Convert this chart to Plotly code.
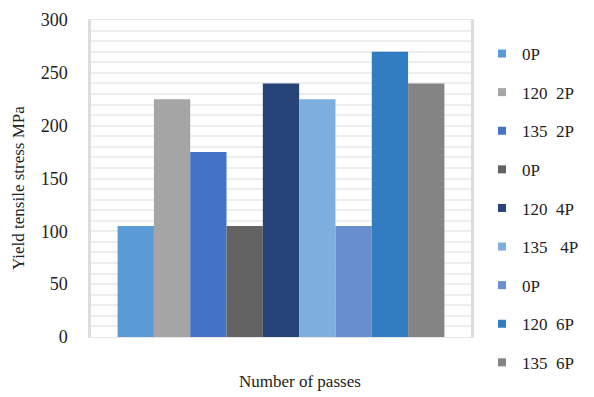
import plotly.graph_objects as go

# Yield tensile stress for each condition / number of passes
series_names = ["0P", "120  2P", "135  2P", "0P", "120  4P", "135   4P", "0P", "120  6P", "135  6P"]
stress_mpa = [105, 225, 175, 105, 240, 225, 105, 270, 240]
bar_colors = ["#5B9BD5", "#A5A5A5", "#4472C4", "#636363", "#264478",
              "#7CAFDD", "#698ED0", "#327DC2", "#848484"]
category = [""]
y_ticks = [0, 50, 100, 150, 200, 250, 300]

FONT = "Liberation Serif, Times New Roman, serif"
TEXT = "#222222"

fig = go.Figure()
for i, (name, val, col) in enumerate(zip(series_names, stress_mpa, bar_colors)):
    fig.add_trace(go.Bar(
        x=category, y=[val], name=name,
        marker=dict(color=col, line=dict(width=0)),
        showlegend=False, legendgroup=f"s{i}",
    ))
# legend entries with small square swatches
for i, (name, col) in enumerate(zip(series_names, bar_colors)):
    fig.add_trace(go.Scatter(
        x=[None], y=[None], mode="markers", name=name,
        marker=dict(symbol="square", size=8, color=col),
        legendgroup=f"s{i}", showlegend=True,
    ))

fig.update_layout(
    width=594, height=397,
    margin=dict(l=91, r=123, t=20, b=60, autoexpand=False),
    paper_bgcolor="white", plot_bgcolor="white",
    barmode="group", bargap=0.14, bargroupgap=0,
    font=dict(family=FONT, size=17, color=TEXT),
    legend=dict(
        x=1.0 + 11 / 380, xanchor="left", y=1.0 - 16 / 317, yanchor="top",
        xref="paper", yref="paper",
        font=dict(family=FONT, size=17, color=TEXT),
        itemwidth=30, tracegroupgap=13.5, maxheight=390,
        bgcolor="rgba(0,0,0,0)",
        traceorder="grouped",
    ),
    xaxis=dict(
        showticklabels=False, showgrid=False, zeroline=False,
        showline=True, linecolor="#E6E6E6", linewidth=1, mirror=True,
        ticks="",
    ),
    yaxis=dict(
        range=[0, 300], tickvals=y_ticks,
        showgrid=True, gridcolor="#EEEEEE", gridwidth=1.5,
        minor=dict(dtick=10, showgrid=True, gridcolor="#EEEEEE", gridwidth=1.5),
        zeroline=False,
        showline=True, linecolor="#DDDDDD", linewidth=2.5, mirror=True,
        ticks="", ticklabelstandoff=17,
        tickfont=dict(family=FONT, size=18, color=TEXT),
    ),
    annotations=[
        dict(text="Yield tensile stress MPa", textangle=-90,
             xref="paper", yref="paper", x=-91 / 380 + 18 / 380, y=0.47,
             xanchor="center", yanchor="middle", showarrow=False,
             font=dict(family=FONT, size=17, color=TEXT)),
        dict(text="Number of passes",
             xref="paper", yref="paper", x=(300 - 91) / 380, y=-44 / 317,
             xanchor="center", yanchor="middle", showarrow=False,
             font=dict(family=FONT, size=17, color=TEXT)),
    ],
)

fig.write_html("out.html")
